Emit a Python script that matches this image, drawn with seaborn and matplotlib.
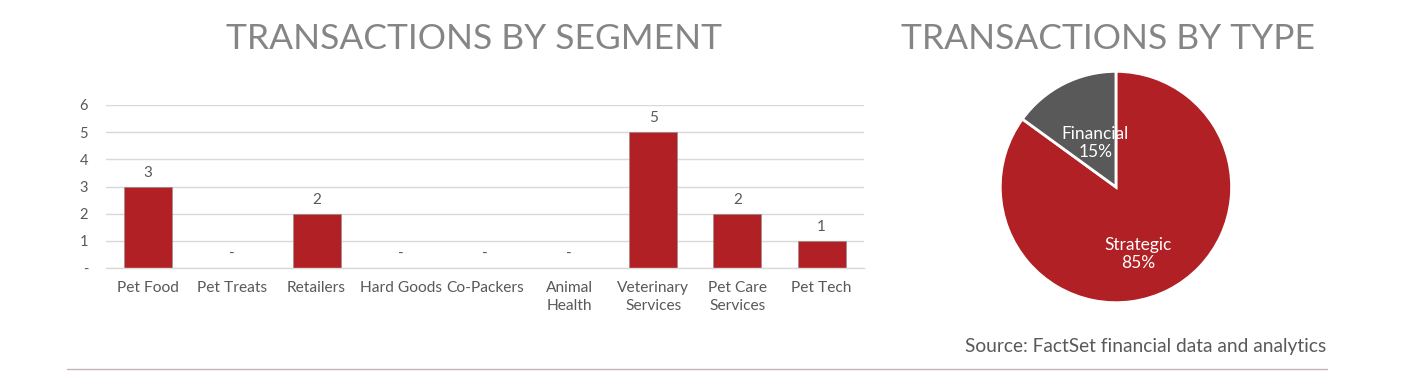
"""Transactions by segment and by type: bar + pie panel."""

import matplotlib
matplotlib.use("Agg")
import matplotlib.pyplot as plt
from matplotlib.ticker import FixedLocator, FuncFormatter
import seaborn as sns
import pandas as pd

# Data
segments = ["Pet Food", "Pet Treats", "Retailers", "Hard Goods", "Co-Packers",
            "Animal\nHealth", "Veterinary\nServices", "Pet Care\nServices", "Pet Tech"]
counts = [3, 0, 2, 0, 0, 0, 5, 2, 1]
y_ticks = [0, 1, 2, 3, 4, 5, 6]

deal_types = ["Strategic", "Financial"]
deal_shares = [85, 15]

source_note = "Source: FactSet financial data and analytics"

RED = "#B02024"
DARK_GREY = "#595959"
TEXT_GREY = "#595959"
TITLE_GREY = "#858585"
GRID_GREY = "#d9d9d9"

sns.set_theme(style="white")
plt.rcParams["font.family"] = ["Lato", "DejaVu Sans"]

fig = plt.figure(figsize=(14.03, 3.71), dpi=100)

# Bar chart
ax = fig.add_axes([0.0756, 0.2776, 0.540, 0.4394])
df = pd.DataFrame({"segment": segments, "count": counts})
sns.barplot(data=df, x="segment", y="count", color=RED, width=0.57,
            saturation=1, edgecolor="#8c8c8c", linewidth=0.4, ax=ax)

ax.set_ylim(0, 6)
ax.set_xlim(-0.5, len(segments) - 0.5)
ax.yaxis.set_major_locator(FixedLocator(y_ticks))
ax.yaxis.set_major_formatter(FuncFormatter(lambda v, _: "-" if v == 0 else f"{int(v)}"))
ax.grid(True, axis="y", color=GRID_GREY, linewidth=1)
ax.set_axisbelow(True)
for side in ["top", "right", "left"]:
    ax.spines[side].set_visible(False)
ax.spines["bottom"].set_color(GRID_GREY)
ax.spines["bottom"].set_linewidth(1)
ax.tick_params(axis="y", length=0, pad=13, labelsize=10.5, labelcolor=TEXT_GREY)
ax.tick_params(axis="x", length=0, pad=9, labelsize=11.2, labelcolor=TEXT_GREY)
for lbl in ax.get_xticklabels():
    lbl.set_linespacing(1.45)
ax.set_xlabel("")
ax.set_ylabel("")

ax.bar_label(ax.containers[0], labels=[str(v) if v else "-" for v in counts],
             padding=5, fontsize=11, color=TEXT_GREY)

fig.text(0.338, 0.895, "TRANSACTIONS BY SEGMENT", ha="center", va="center",
         fontsize=25.5, color=TITLE_GREY)

# Pie chart
pax = fig.add_axes([0.7113, 0.1779, 0.1682, 0.636])
wedges, texts = pax.pie(deal_shares, colors=[RED, DARK_GREY], startangle=90,
                        counterclock=False,
                        labels=[f"{t}\n{s}%" for t, s in zip(deal_types, deal_shares)],
                        labeldistance=0.5,
                        wedgeprops=dict(edgecolor="white", linewidth=2),
                        textprops=dict(color="white", fontsize=12.5, ha="center",
                                       va="center", linespacing=1.15))
texts[0].set_position((0.19, -0.58))
texts[1].set_position((-0.18, 0.38))
pax.set_xlim(-1.02, 1.02)
pax.set_ylim(-1.02, 1.02)
pax.set_aspect("equal")

fig.text(0.79, 0.895, "TRANSACTIONS BY TYPE", ha="center", va="center",
         fontsize=25.5, color=TITLE_GREY)

fig.text(0.945, 0.067, source_note, ha="right", va="center",
         fontsize=13.8, color=TEXT_GREY)

fig.add_artist(plt.Line2D([0.048, 0.946], [0.006, 0.006], color="#c4b4b4",
                          linewidth=1, transform=fig.transFigure))

fig.savefig("out.png", dpi=100)
plt.close(fig)
